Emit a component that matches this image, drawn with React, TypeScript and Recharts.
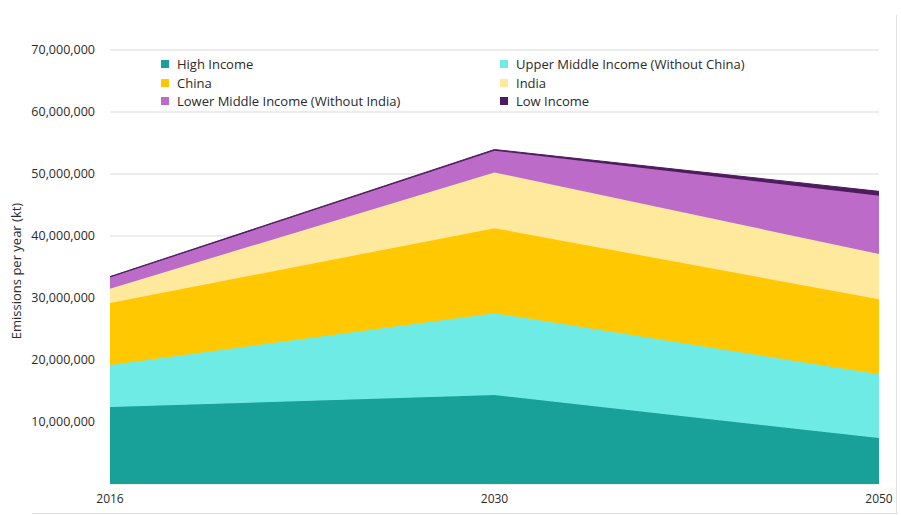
import React from "react";
import { AreaChart, Area, XAxis, YAxis, CartesianGrid } from "recharts";

const years = ["2016", "2030", "2050"];
const highIncome = [12400000, 14350000, 7400000];
const upperMiddle = [6800000, 13200000, 10300000];
const china = [10000000, 13700000, 12100000];
const india = [2300000, 9000000, 7300000];
const lowerMiddle = [1800000, 3500000, 9400000];
const lowIncome = [150000, 200000, 700000];
const yTicks = [10000000, 20000000, 30000000, 40000000, 50000000, 60000000, 70000000];

const series = [
  { key: "hi", name: "High Income", color: "#17a199", stroke: "#17a199", values: highIncome },
  { key: "umi", name: "Upper Middle Income (Without China)", color: "#6eebe5", stroke: "#6eebe5", values: upperMiddle },
  { key: "china", name: "China", color: "#ffc800", stroke: "#ffc800", values: china },
  { key: "india", name: "India", color: "#ffe99c", stroke: "#ffe99c", values: india },
  { key: "lmi", name: "Lower Middle Income (Without India)", color: "#bc6bc8", stroke: "#bc6bc8", values: lowerMiddle },
  { key: "low", name: "Low Income", color: "#4e1c5e", stroke: "#4e1c5e", values: lowIncome },
];

const data = years.map((y, i) => {
  const row: any = { year: y };
  series.forEach((s) => (row[s.key] = s.values[i]));
  return row;
});

const FONT = "'Open Sans', 'DejaVu Sans', sans-serif";
const TEXT = "#2a2a2a";
const fmt = (v: number) => v.toLocaleString("en-US");

const legendOrder = ["hi", "umi", "china", "india", "lmi", "low"];

const LegendBox = () => (
  <div
    style={{
      position: "absolute",
      left: 161,
      top: 55,
      display: "grid",
      gridTemplateColumns: "339px 300px",
      fontFamily: FONT,
      fontSize: 13,
      color: TEXT,
    }}
  >
    {legendOrder.map((k) => {
      const s = series.find((x) => x.key === k)!;
      return (
        <div key={k} style={{ display: "flex", alignItems: "center", height: 18.5 }}>
          <span
            style={{ width: 8, height: 8, background: s.color, display: "inline-block", marginRight: 8 }}
          />
          <span>{s.name}</span>
        </div>
      );
    })}
  </div>
);

export default function App() {
  return (
    <div style={{ position: "absolute", left: 0, top: 0, width: 901, height: 515, background: "#fff" }}>
      <AreaChart width={901} height={515} data={data} margin={{ top: 50, right: 22, bottom: 0, left: 10 }}>
        <CartesianGrid vertical={false} stroke="#e6e6e6" strokeWidth={1.5} />
        <XAxis
          dataKey="year"
          height={31}
          axisLine={false}
          tickLine={false}
          tickSize={0}
          tickMargin={10}
          tick={{ fontFamily: FONT, fontSize: 12, fill: TEXT }}
          interval={0}
        />
        <YAxis
          width={100}
          domain={[0, 70000000]}
          ticks={yTicks}
          axisLine={false}
          tickLine={false}
          tickSize={0}
          tickMargin={15}
          tickFormatter={fmt}
          tick={{ fontFamily: FONT, fontSize: 12.5, fill: TEXT }}
        />
        {series.map((s) => (
          <Area
            key={s.key}
            type="linear"
            dataKey={s.key}
            name={s.name}
            stackId="1"
            fill={s.color}
            fillOpacity={1}
            stroke={s.stroke}
            strokeWidth={1}
            isAnimationActive={false}
          />
        ))}
      </AreaChart>
      <LegendBox />
      <div
        style={{
          position: "absolute",
          left: 16,
          top: 271,
          transform: "translate(-50%, -50%) rotate(-90deg)",
          fontFamily: FONT,
          fontSize: 13,
          color: TEXT,
          whiteSpace: "nowrap",
        }}
      >
        Emissions per year (kt)
      </div>
      <div style={{ position: "absolute", left: 32, top: 513, width: 866, height: 1, background: "#e2e2e2" }} />
      <div style={{ position: "absolute", left: 896, top: 15, width: 1, height: 499, background: "#e2e2e2" }} />
    </div>
  );
}
